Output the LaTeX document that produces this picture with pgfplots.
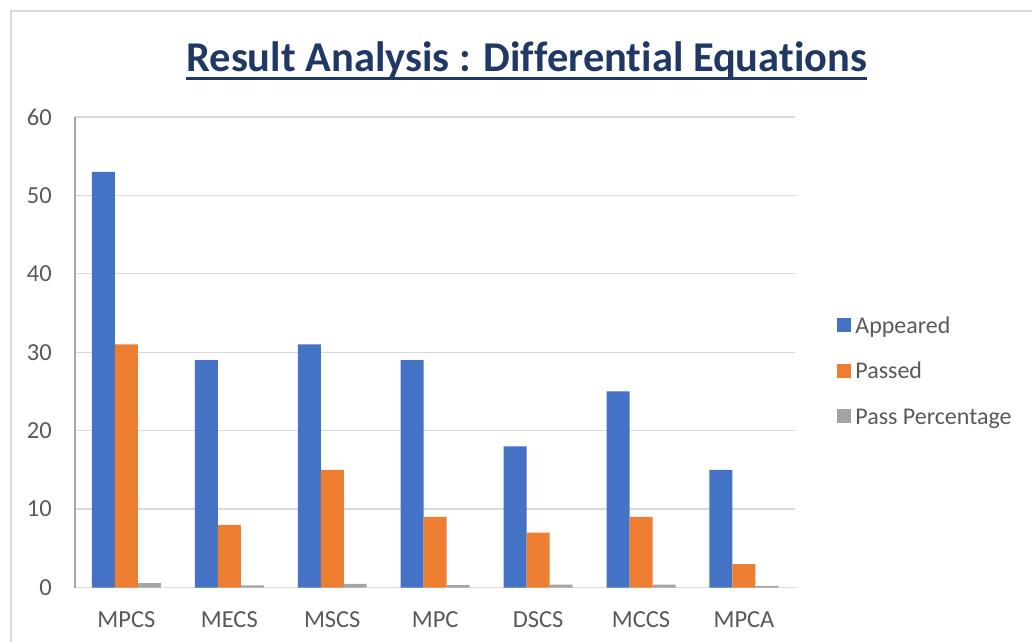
\documentclass[border=0pt]{standalone}
\usepackage{pgfplots}
\pgfplotsset{compat=1.18}
\usepackage{fontspec}
\setmainfont{Carlito}[Ligatures=NoCommon]
\definecolor{cblue}{HTML}{4472C4}
\definecolor{corange}{HTML}{ED7D31}
\definecolor{cgray}{HTML}{A5A5A5}
\definecolor{gridc}{HTML}{D9D9D9}
\definecolor{axisc}{HTML}{A6A6A6}
\definecolor{tickc}{HTML}{595959}
\definecolor{titlec}{HTML}{1F3864}
\begin{document}
\begin{tikzpicture}[x=1bp,y=1bp]
\path (0,0) rectangle (1033,642);
\draw[gridc, line width=1.5bp] (11,0) -- (11,631) -- (1033,631);
\node[anchor=base, inner sep=0pt, text=titlec, font=\bfseries\fontsize{42.5bp}{50bp}\selectfont] (T) at (527,570) {Result Analysis : Differential Equations};
\draw[titlec, line width=2.8bp] ([yshift=-6.7bp]T.base west) -- ([yshift=-6.7bp]T.base east);
\begin{axis}[
  at={(75bp,54bp)}, anchor=south west,
  scale only axis, width=721bp, height=471bp,
  xmin=-0.5, xmax=6.5, ymin=0, ymax=60,
  ybar=0pt, bar width=23bp,
  xtick={0,1,2,3,4,5,6},
  xticklabels={MPCS,MECS,MSCS,MPC,DSCS,MCCS,MPCA},
  ytick={0,10,20,30,40,50,60},
  major tick length=0pt,
  axis x line*=bottom, axis y line*=left,
  x axis line style={gridc, line width=1.3bp, -},
  y axis line style={axisc, line width=1.3bp, -},
  ymajorgrids, major grid style={gridc, line width=1.3bp},
  tick label style={text=tickc, font=\fontsize{24.5bp}{29bp}\selectfont},
  /pgf/number format/assume math mode=true,
  yticklabel style={anchor=east, inner sep=0pt, xshift=-23bp},
  xticklabel style={anchor=north, inner sep=0pt, yshift=-24bp},
  legend style={draw=none, fill=none, at={(1.058,0.574)}, anchor=north west,
    inner sep=0pt, row sep=30bp, font=\fontsize{24bp}{29bp}\selectfont, text=tickc,
    nodes={inner xsep=4bp, inner ysep=0pt, text height=15.5bp, text depth=0pt}},
  legend cell align=left,
  legend image code/.code={\fill[#1] (0bp,-7bp) rectangle (14bp,7bp);},
]
\addplot[fill=cblue, draw=none] coordinates {(0,53) (1,29) (2,31) (3,29) (4,18) (5,25) (6,15)};
\addplot[fill=corange, draw=none] coordinates {(0,31) (1,8) (2,15) (3,9) (4,7) (5,9) (6,3)};
\addplot[fill=cgray, draw=none] coordinates {(0,0.58) (1,0.28) (2,0.48) (3,0.31) (4,0.39) (5,0.36) (6,0.2)};
\legend{Appeared, Passed, Pass Percentage}
\end{axis}
\end{tikzpicture}
\end{document}
